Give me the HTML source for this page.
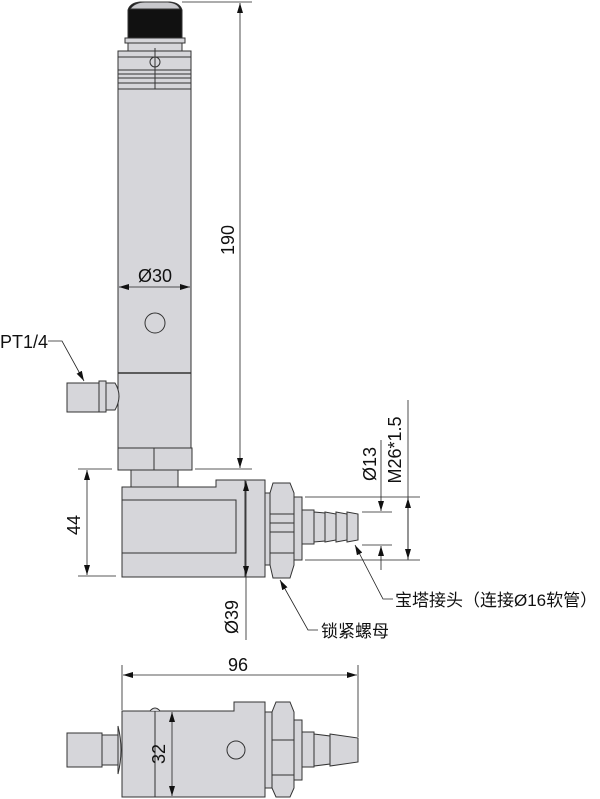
<!DOCTYPE html>
<html><head><meta charset="utf-8"><style>
html,body{margin:0;padding:0;background:#fff;}
svg{display:block}
text{font-family:"Liberation Sans","Noto Sans CJK SC",sans-serif;fill:#111}
</style></head><body>
<svg width="600" height="799" viewBox="0 0 600 799" xmlns="http://www.w3.org/2000/svg">
<defs>
<marker id="a" markerWidth="10" markerHeight="6" refX="10" refY="3" orient="auto-start-reverse" markerUnits="userSpaceOnUse"><path d="M0,0 L10,3 L0,6 Z" fill="#111"/></marker>
</defs>
<g stroke="#333" stroke-width="1" fill="#d6d6da">
<path d="M128,38 L128,10 Q130,3 140,2 L170,2 Q180,3 182,10 L182,38 Z" fill="#111"/>
<path d="M130,9 Q135,2 145,2 L168,2 Q178,3 180,9 Z" fill="#c8c8cc"/>
<rect x="125" y="38" width="60" height="5"/>
<rect x="128" y="43" width="54" height="8"/>
<rect x="118" y="51" width="73" height="38"/>
<line x1="118" y1="57" x2="191" y2="57"/>
<line x1="118" y1="70" x2="191" y2="70"/>
<line x1="118" y1="74" x2="191" y2="74"/>
<line x1="118" y1="78" x2="191" y2="78"/>
<line x1="118" y1="83" x2="191" y2="83"/>
<circle cx="155" cy="62" r="5" fill="none"/>
<line x1="155" y1="48" x2="155" y2="110"/>
<rect x="118" y="89" width="73" height="284"/>
<rect x="118" y="373" width="73" height="75"/>
<line x1="118" y1="373" x2="191" y2="373" stroke-width="1.5"/>
<circle cx="155" cy="323" r="10" fill="none"/>
<path d="M103,383 L115,383 Q123,396 115,410 L103,410 Z"/>
<rect x="99" y="381" width="7" height="31"/>
<rect x="67" y="383" width="32" height="29"/>
<rect x="118" y="448" width="74" height="22"/>
<line x1="154" y1="448" x2="154" y2="470"/>
<rect x="131" y="470" width="47" height="17"/>
<path d="M122,487 L216,487 L216,480 L245,480 L245,577 L122,577 Z"/>
<rect x="122" y="500" width="114" height="53"/>
<rect x="245" y="480" width="20" height="97"/>
<rect x="265" y="493" width="6" height="72"/>
<path d="M273,483 L290,483 L294,493 L294,565 L290,578 L273,578 L270,565 L270,493 Z"/>
<line x1="270" y1="514" x2="294" y2="514"/>
<line x1="270" y1="523" x2="294" y2="523"/>
<line x1="270" y1="532" x2="294" y2="532"/>
<line x1="270" y1="553" x2="294" y2="553"/>
<rect x="294" y="497" width="8" height="63"/>
<rect x="302" y="510" width="12" height="34"/>
<path d="M314,512 L325,513 L325,541 L314,542 Z"/>
<path d="M325,512 L336,514 L336,540 L325,542 Z"/>
<path d="M336,512 L347,514 L347,540 L336,542 Z"/>
<path d="M347,512 L358,514 L358,540 L347,542 Z"/>
<rect x="67" y="733" width="35" height="34"/>
<rect x="102" y="735" width="16" height="30"/>
<path d="M118,726 Q124,750 118,774 Z"/>
<path d="M122,711 L234,711 L234,702 L265,702 L265,797 L122,797 Z"/>
<line x1="155" y1="711" x2="155" y2="797"/>
<path d="M150,711 Q155,705 160,711"/>
<rect x="265" y="712" width="7" height="76"/>
<path d="M276,702 L290,702 L294,712 L294,788 L290,797 L276,797 L272,788 L272,712 Z"/>
<line x1="272" y1="740" x2="294" y2="740"/>
<line x1="272" y1="775" x2="294" y2="775"/>
<rect x="294" y="720" width="8" height="60"/>
<rect x="302" y="732" width="12" height="35"/>
<path d="M314,734 L330,736 L330,764 L314,766 Z"/>
<path d="M330,734 L358,738 L358,762 L330,766 Z"/>
<circle cx="236" cy="750" r="9" fill="none"/>
</g>
<g stroke="#222" stroke-width="0.8" fill="none">
<line x1="182" y1="2" x2="252" y2="2"/>
<line x1="195" y1="469" x2="252" y2="469"/>
<line x1="240" y1="3" x2="240" y2="468" marker-start="url(#a)" marker-end="url(#a)"/>
<line x1="119" y1="287" x2="190" y2="287" marker-start="url(#a)" marker-end="url(#a)"/>
<line x1="78" y1="469" x2="112" y2="469"/>
<line x1="78" y1="576" x2="116" y2="576"/>
<line x1="87" y1="470" x2="87" y2="575" marker-start="url(#a)" marker-end="url(#a)"/>
<line x1="246" y1="481" x2="246" y2="576" marker-start="url(#a)" marker-end="url(#a)"/>
<line x1="246" y1="576" x2="246" y2="640"/>
<line x1="305" y1="497" x2="420" y2="497"/>
<line x1="305" y1="560" x2="420" y2="560"/>
<line x1="362" y1="512" x2="392" y2="512"/>
<line x1="362" y1="545" x2="392" y2="545"/>
<line x1="381" y1="440" x2="381" y2="511" marker-end="url(#a)"/>
<line x1="381" y1="570" x2="381" y2="546" marker-end="url(#a)"/>
<line x1="408" y1="400" x2="408" y2="560"/>
<line x1="408" y1="498" x2="408" y2="559" marker-start="url(#a)" marker-end="url(#a)"/>
<line x1="122" y1="665" x2="122" y2="710"/>
<line x1="358" y1="665" x2="358" y2="737"/>
<line x1="123" y1="675" x2="357" y2="675" marker-start="url(#a)" marker-end="url(#a)"/>
<line x1="172" y1="712" x2="172" y2="796" marker-start="url(#a)" marker-end="url(#a)"/>
<polyline points="48,341 62,341 84,381" marker-end="url(#a)"/>
<polyline points="393,599 383,599 355,545" marker-end="url(#a)"/>
<polyline points="318,630 308,630 280,580" marker-end="url(#a)"/>
</g>
<g font-size="18">
<text x="229" y="240" transform="rotate(-90 229 240)" text-anchor="middle" dominant-baseline="middle">190</text>
<text x="155" y="282" text-anchor="middle">Ø30</text>
<text x="0" y="348">PT1/4</text>
<text x="75" y="525" transform="rotate(-90 75 525)" text-anchor="middle" dominant-baseline="middle">44</text>
<text x="233" y="617" transform="rotate(-90 233 617)" text-anchor="middle" dominant-baseline="middle">Ø39</text>
<text x="371" y="464" transform="rotate(-90 371 464)" text-anchor="middle" dominant-baseline="middle">Ø13</text>
<text x="396" y="450" transform="rotate(-90 396 450)" text-anchor="middle" dominant-baseline="middle">M26*1.5</text>
<text x="395" y="606" font-size="17">宝塔接头（连接Ø16软管）</text>
<text x="321" y="637" font-size="17">锁紧螺母</text>
<text x="238" y="671" text-anchor="middle">96</text>
<text x="160" y="754" transform="rotate(-90 160 754)" text-anchor="middle" dominant-baseline="middle">32</text>
</g>
</svg>
</body></html>
